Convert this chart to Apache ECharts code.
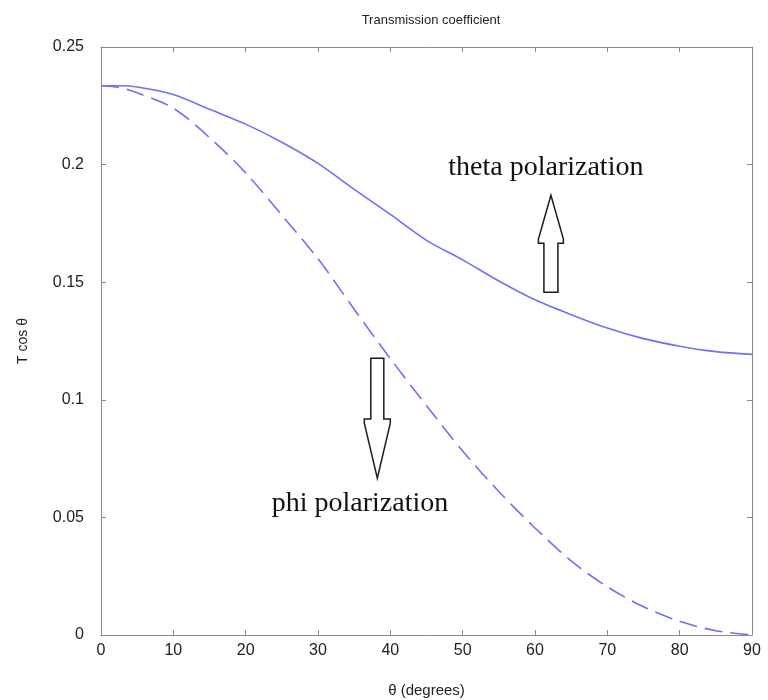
<!DOCTYPE html>
<html>
<head>
<meta charset="utf-8">
<script src="https://cdn.jsdelivr.net/npm/echarts/dist/echarts.min.js"></script>
<style>html,body{margin:0;padding:0;background:#fff}#c{width:768px;height:700px}</style>
</head>
<body>
<div id="c"></div>
<script>
// ---- data ----
const angles = [0, 2.5, 5, 10, 15, 20, 25, 30, 35, 40, 45, 50, 55, 60, 65, 70, 75, 80, 85, 90];
const thetaPol = [0.2335, 0.2335, 0.2330, 0.2298, 0.2235, 0.2172, 0.2095, 0.2005, 0.1895, 0.1788, 0.1678, 0.1595, 0.1505, 0.1425, 0.1362, 0.1305, 0.1260, 0.1228, 0.1205, 0.1193];
const phiPol   = [0.2335, 0.2328, 0.2305, 0.2240, 0.2115, 0.1965, 0.1785, 0.1600, 0.1385, 0.1175, 0.0975, 0.0782, 0.0610, 0.0455, 0.0315, 0.0205, 0.0120, 0.0058, 0.0018, 0.0000];
const xTicks = [0, 10, 20, 30, 40, 50, 60, 70, 80, 90];
const yTicks = [0, 0.05, 0.1, 0.15, 0.2, 0.25];
const labels = ['theta polarization', 'phi polarization'];

const chart = echarts.init(document.getElementById('c'), null, {renderer: 'canvas'});
const axisGray = '#8a8a8a';
const sans = 'Liberation Sans, Arial, sans-serif';
const serif = 'Liberation Serif, Times New Roman, serif';
const lineColor = '#6f6fff';

function pairs(vals) { return angles.map((a, i) => [a, vals[i]]); }

const baseX = {
  type: 'value', min: xTicks[0], max: xTicks[xTicks.length - 1], interval: 10,
  axisLine: {show: true, onZero: false, lineStyle: {color: axisGray, width: 1}},
  axisTick: {show: true, inside: true, length: 5, lineStyle: {color: axisGray}},
  splitLine: {show: false}
};
const baseY = {
  type: 'value', min: yTicks[0], max: yTicks[yTicks.length - 1], interval: 0.05,
  axisLine: {show: true, onZero: false, lineStyle: {color: axisGray, width: 1}},
  axisTick: {show: true, inside: true, length: 5, lineStyle: {color: axisGray}},
  splitLine: {show: false}
};

chart.setOption({
  animation: false,
  backgroundColor: '#fff',
  title: {
    text: 'Transmission coefficient', left: 426, top: 9, textAlign: 'center',
    textStyle: {fontFamily: sans, fontSize: 13, fontWeight: 'normal', color: '#222'}
  },
  grid: {left: 101, right: 16, top: 47, bottom: 65, containLabel: false, outerBoundsMode: 'none'},
  xAxis: [
    Object.assign({}, baseX, {
      position: 'bottom',
      axisLabel: {fontFamily: sans, fontSize: 16, color: '#222', margin: 8},
      name: 'θ (degrees)', nameLocation: 'middle', nameGap: 48,
      nameTextStyle: {fontFamily: sans, fontSize: 15, color: '#222'}
    }),
    Object.assign({}, baseX, {position: 'top', axisLabel: {show: false}})
  ],
  yAxis: [
    Object.assign({}, baseY, {
      position: 'left',
      axisLabel: {fontFamily: sans, fontSize: 16, color: '#222', margin: 17,
        formatter: v => String(+v.toFixed(2))},
      name: 'T cos θ', nameLocation: 'middle', nameGap: 71, nameRotate: 90,
      nameTextStyle: {fontFamily: sans, fontSize: 14, color: '#222'}
    }),
    Object.assign({}, baseY, {position: 'right', axisLabel: {show: false}})
  ],
  series: [
    {
      name: labels[0], type: 'line', data: pairs(thetaPol), smooth: 0.3,
      showSymbol: false, xAxisIndex: 0, yAxisIndex: 0,
      lineStyle: {color: lineColor, width: 1.6, type: 'solid'}
    },
    {
      name: labels[1], type: 'line', data: pairs(phiPol), smooth: 0.3,
      showSymbol: false, xAxisIndex: 0, yAxisIndex: 0,
      lineStyle: {color: lineColor, width: 1.6, type: [18, 8]}
    }
  ]
});

// annotations placed in data coordinates
function px(pt) { return chart.convertToPixel({gridIndex: 0}, pt); }
function arrow(tip, headBase, tail, sw, hw, up) {
  const [tx, ty] = tip;
  const hb = headBase[1], b = tail[1];
  const s = up ? 1 : -1;
  const pts = [
    [tx - sw, b], [tx - sw, hb], [tx - hw, hb], [tx - hw, hb - 4 * s],
    [tx, ty],
    [tx + hw, hb - 4 * s], [tx + hw, hb], [tx + sw, hb], [tx + sw, b]
  ];
  return {type: 'polygon', shape: {points: pts}, z: 100,
    style: {fill: '#fff', stroke: '#1c1c1c', lineWidth: 1.5}};
}
const tText = px([61.5, 0.1929]);
const pText = px([35.8, 0.0497]);
const tA = [px([62.2, 0.187]), px([62.2, 0.1666]), px([62.2, 0.1457])];
const pA = [px([38.2, 0.0667]), px([38.2, 0.0918]), px([38.2, 0.1177])];
chart.setOption({
  graphic: [
    {type: 'text', x: tText[0], y: tText[1], z: 100,
      style: {text: labels[0], fontFamily: serif, fontSize: 28, fill: '#111', textAlign: 'center', textVerticalAlign: 'bottom'}},
    {type: 'text', x: pText[0], y: pText[1], z: 100,
      style: {text: labels[1], fontFamily: serif, fontSize: 28, fill: '#111', textAlign: 'center', textVerticalAlign: 'bottom'}},
    arrow(tA[0], tA[1], tA[2], 7, 12.5, true),
    arrow(pA[0], pA[1], pA[2], 6.5, 13, false)
  ]
});
</script>
</body>
</html>
